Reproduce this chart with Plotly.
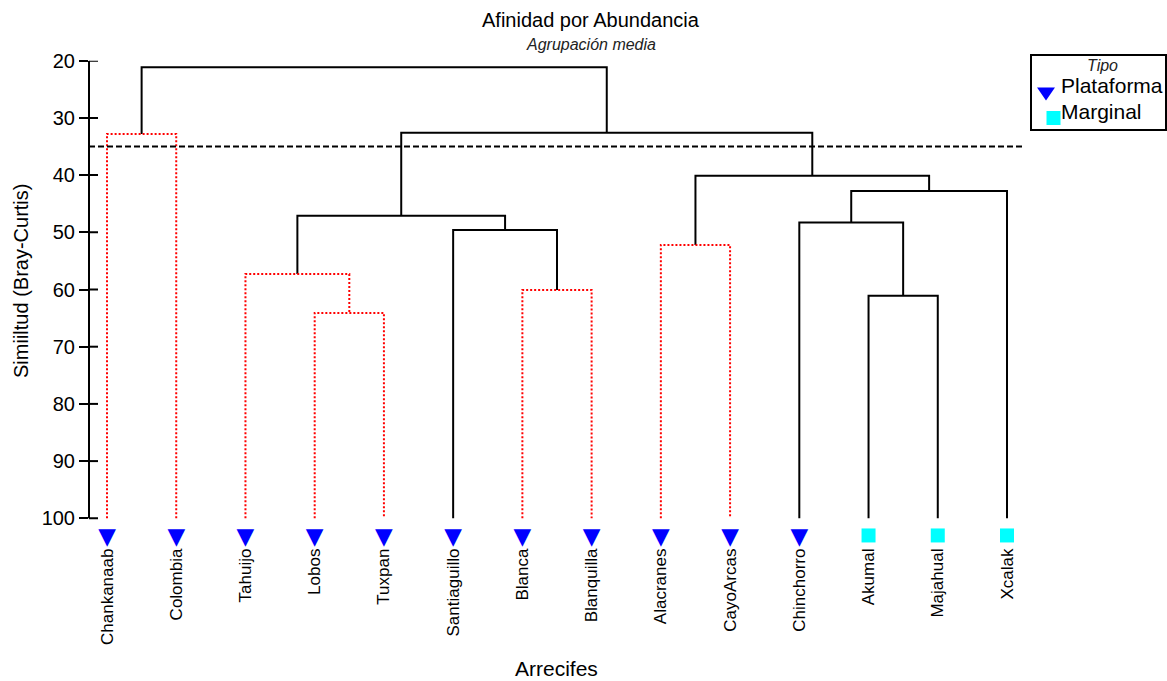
import plotly.graph_objects as go

# Reefs in dendrogram leaf order and their reef type
reefs = ["Chankanaab", "Colombia", "Tahuijo", "Lobos", "Tuxpan", "Santiaguillo",
         "Blanca", "Blanquilla", "Alacranes", "CayoArcas", "Chinchorro",
         "Akumal", "Majahual", "Xcalak"]
reef_type = ["Plataforma"] * 11 + ["Marginal"] * 3

# Group-average agglomeration steps. Nodes 0-13 are reefs, 14+ are the
# merges below in the order they are listed.
merge_left = [3, 6, 11, 2, 8, 5, 10, 17, 20, 18, 21, 0, 25]
merge_right = [4, 7, 12, 14, 9, 15, 16, 19, 13, 22, 23, 1, 24]
merge_similarity = [64.1, 60.1, 61.1, 57.3, 52.2, 49.6, 48.3, 47.1, 42.8, 40.1, 32.6, 32.8, 21.15]
# SIMPROF: True where the split is significant (solid), False otherwise (dotted red)
merge_significant = [False, False, True, False, False, True, True, True, True, True, True, False, True]

cutoff_similarity = 35
y_ticks = [20, 30, 40, 50, 60, 70, 80, 90, 100]

W, H = 1167, 681
FONT = "Liberation Sans, Arial, sans-serif"
PLOT_L, PLOT_R = 89, 1025          # pixel span of the plotting area
PX_TOP, PX_PER_UNIT = 60.7, 5.72   # pixel row of 20 % and pixels per % similarity
Y_LOW = 104                        # room under the 100 % line for the leaf symbols
TRI_Y, SQ_Y = 103.55, 103          # rows of the leaf symbols below the 100 % line
PLOT_B = PX_TOP + (Y_LOW - 20) * PX_PER_UNIT


def px(x):
    return x / W


def py(y):
    return 1 - y / H


# node positions: leaves at their index, merges at the mean of their children
node_x = [float(i) for i in range(len(reefs))]
node_s = [100.0] * len(reefs)
for l, r, s in zip(merge_left, merge_right, merge_similarity):
    node_x.append((node_x[l] + node_x[r]) / 2)
    node_s.append(s)

seg = {True: ([], []), False: ([], [])}
for l, r, s, sig in zip(merge_left, merge_right, merge_similarity, merge_significant):
    xs, ys = seg[sig]
    xs += [node_x[l], node_x[l], node_x[r], node_x[r], None]
    ys += [node_s[l], s, s, node_s[r], None]

fig = go.Figure()
fig.add_trace(go.Scatter(x=seg[True][0], y=seg[True][1], mode="lines",
                         line=dict(color="black", width=2), hoverinfo="skip"))
fig.add_trace(go.Scatter(x=seg[False][0], y=seg[False][1], mode="lines",
                         line=dict(color="#ff0000", width=2, dash="2px,2px"),
                         hoverinfo="skip"))

# leaf symbols: platform reefs as a down-pointing triangle glyph, marginal as squares
PLAT_COLOR, MARG_COLOR = "#0000ff", "#00ffff"
plat = [i for i, rt in enumerate(reef_type) if rt == "Plataforma"]
marg = [i for i, rt in enumerate(reef_type) if rt == "Marginal"]
fig.add_trace(go.Scatter(
    x=plat, y=[TRI_Y] * len(plat), mode="text", name="Plataforma",
    text=["▼"] * len(plat), textposition="middle center",
    textfont=dict(family="DejaVu Sans", size=23, color=PLAT_COLOR),
    cliponaxis=False, hovertext=[reefs[i] for i in plat], hoverinfo="text"))
fig.add_trace(go.Scatter(
    x=marg, y=[SQ_Y] * len(marg), mode="markers", name="Marginal",
    marker=dict(symbol="square", color=MARG_COLOR, size=14, line=dict(width=0)),
    cliponaxis=False, text=[reefs[i] for i in marg], hoverinfo="text"))

shapes = [
    # cut-off similarity
    dict(type="line", xref="x domain", x0=0, x1=1, yref="y",
         y0=cutoff_similarity, y1=cutoff_similarity,
         line=dict(color="black", width=2, dash="6px,3px")),
    # y axis line, 20-100 only
    dict(type="line", xref="x domain", x0=0, x1=0, yref="y", y0=20, y1=100,
         line=dict(color="black", width=2)),
]
# inner half of the crossing y-axis ticks
for v in y_ticks:
    shapes.append(dict(type="line", xref="x domain", x0=0, x1=9 / (PLOT_R - PLOT_L),
                       yref="y", y0=v, y1=v, line=dict(color="black", width=2)))

# legend key "Tipo"
shapes += [
    dict(type="rect", xref="paper", yref="paper", x0=px(1031), x1=px(1166),
         y0=py(130), y1=py(55), line=dict(color="black", width=2),
         fillcolor="white"),
    dict(type="path", xref="paper", yref="paper",
         path="M {} {} L {} {} L {} {} Z".format(px(1037), py(87.5), px(1055), py(87.5),
                                                 px(1046), py(100.5)),
         fillcolor=PLAT_COLOR, line=dict(width=0)),
    dict(type="rect", xref="paper", yref="paper", x0=px(1046.5), x1=px(1060.5),
         y0=py(125), y1=py(111), fillcolor=MARG_COLOR, line=dict(width=0)),
]

annotations = [
    dict(text="Afinidad por Abundancia", x=px(590.5), y=py(19.5), xref="paper",
         yref="paper", showarrow=False, xanchor="center", yanchor="middle",
         font=dict(family=FONT, size=20, color="black")),
    dict(text="<i>Agrupación media</i>", x=px(591), y=py(45), xref="paper",
         yref="paper", showarrow=False, xanchor="center", yanchor="middle",
         font=dict(family=FONT, size=16, color="#222222")),
    dict(text="Arrecifes", x=px(556.5), y=py(668), xref="paper", yref="paper",
         showarrow=False, xanchor="center", yanchor="middle",
         font=dict(family=FONT, size=21, color="black")),
    dict(text="Simiiltud (Bray-Curtis)", x=px(21), y=py(281), xref="paper",
         yref="paper", showarrow=False, xanchor="center", yanchor="middle",
         textangle=-90, font=dict(family=FONT, size=20, color="black")),
    dict(text="<i>Tipo</i>", x=px(1102.5), y=py(66), xref="paper", yref="paper",
         showarrow=False, xanchor="center", yanchor="middle",
         font=dict(family=FONT, size=16, color="#222222")),
    dict(text="Plataforma", x=px(1059), y=py(85.5), xref="paper", yref="paper",
         showarrow=False, xanchor="left", yanchor="middle",
         font=dict(family=FONT, size=21, color="black")),
    dict(text="Marginal", x=px(1059), y=py(112), xref="paper", yref="paper",
         showarrow=False, xanchor="left", yanchor="middle",
         font=dict(family=FONT, size=21, color="black")),
]

fig.update_layout(
    width=W, height=H, margin=dict(l=0, r=0, t=0, b=0, pad=0),
    paper_bgcolor="white", plot_bgcolor="white",
    font=dict(family=FONT, color="black"),
    showlegend=False,
    xaxis=dict(domain=[px(PLOT_L), px(PLOT_R)], range=[-0.26, 13.26],
               tickmode="array", tickvals=list(range(len(reefs))), ticktext=reefs,
               tickangle=-90, ticks="", showline=False, showgrid=False,
               zeroline=False, automargin=False, ticklabelstandoff=3,
               tickfont=dict(family=FONT, size=17, color="black")),
    yaxis=dict(domain=[py(PLOT_B), py(PX_TOP)], range=[Y_LOW, 20],
               tickmode="array", tickvals=y_ticks, ticks="outside", ticklen=9,
               tickwidth=2, tickcolor="black", showline=False, showgrid=False,
               zeroline=False, automargin=False,
               tickfont=dict(family=FONT, size=20, color="black")),
    shapes=shapes, annotations=annotations,
)

fig.write_html("out.html")
